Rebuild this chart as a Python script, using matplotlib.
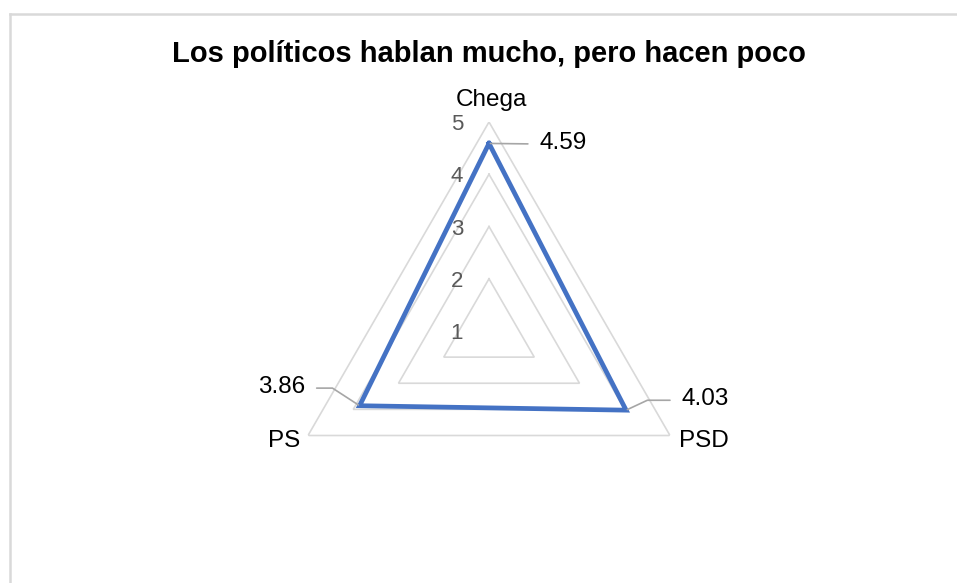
import numpy as np
import matplotlib.pyplot as plt
from matplotlib.lines import Line2D

plt.rcParams['font.family'] = ['Liberation Sans', 'DejaVu Sans']

# data
categories = ['Chega', 'PSD', 'PS']
values = [4.59, 4.03, 3.86]
ticks = [1, 2, 3, 4, 5]
title = 'Los políticos hablan mucho, pero hacen poco'

W, H = 957, 583
fig = plt.figure(figsize=(W / 100, H / 100), dpi=100)

# chart area border: only the top and left edges fall inside the picture
bx, by = 9.5 / W, 1 - 13.5 / H
fig.add_artist(Line2D([bx, 1.0], [by, by], transform=fig.transFigure,
                      color='#d9d9d9', lw=1.8))
fig.add_artist(Line2D([bx, bx], [0.0, by], transform=fig.transFigure,
                      color='#d9d9d9', lw=1.8))

# polar axes: center at (489, 331) px, outer radius 209 px
cx, cy, R = 489, 331, 209
ax = fig.add_axes([(cx - R) / W, (H - cy - R) / H, 2 * R / W, 2 * R / H],
                  projection='polar')
ax.set_theta_zero_location('N')
ax.set_theta_direction(-1)
ax.set_ylim(ticks[0], ticks[-1])
ax.grid(False)
ax.spines['polar'].set_visible(False)
ax.set_xticks([])
ax.set_yticks([])
ax.patch.set_alpha(0)

theta = np.linspace(0, 2 * np.pi, len(categories), endpoint=False)
theta_c = np.append(theta, theta[0])

# triangular gridlines
for t in ticks[1:]:
    ax.plot(theta_c, [t] * len(theta_c), color='#d9d9d9', lw=1.2,
            solid_joinstyle='miter', zorder=1)

# tick labels along the Chega axis
for t in ticks:
    ax.annotate(str(t), xy=(0, t), xytext=(-26, -8), textcoords='offset pixels',
                ha='right', va='baseline', fontsize=16, color='#595959',
                annotation_clip=False)

# series
vals_c = values + values[:1]
ax.plot(theta_c, vals_c, color='#4472C4', lw=3.4, solid_joinstyle='miter',
        zorder=3)

# category labels at outer vertices
cat_off = [((2, 16), 'center'), ((9, -11.5), 'left'), ((-8, -11.5), 'right')]
for th, name, (off, ha) in zip(theta, categories, cat_off):
    ax.annotate(name, xy=(th, ticks[-1]), xytext=off, textcoords='offset pixels',
                ha=ha, va='baseline', fontsize=17.5, color='black',
                annotation_clip=False)

# data labels with leader lines
lab_off = [(50, -5.5), (55, 5), (-54, 12.7)]
lab_ha = ['left', 'left', 'right']
lab_conn = ['arc3', 'angle,angleA=0,angleB=25,rad=0',
            'angle,angleA=0,angleB=147,rad=0']
lab_rel = [(0, 0.45), (0, 0.45), (1, 0.45)]
for th, v, off, ha, cs, rp in zip(theta, values, lab_off, lab_ha, lab_conn, lab_rel):
    ax.annotate(f'{v:.2f}', xy=(th, v), xytext=off, textcoords='offset pixels',
                ha=ha, va='baseline', fontsize=17.5, color='black',
                annotation_clip=False,
                arrowprops=dict(arrowstyle='-', color='#a6a6a6', lw=1.2,
                                connectionstyle=cs, relpos=rp,
                                shrinkA=6, shrinkB=1))

fig.text(488.5 / W, 1 - 62 / H, title, ha='center', va='baseline',
         fontsize=21, fontweight='bold')

fig.savefig('out.png', dpi=100)
